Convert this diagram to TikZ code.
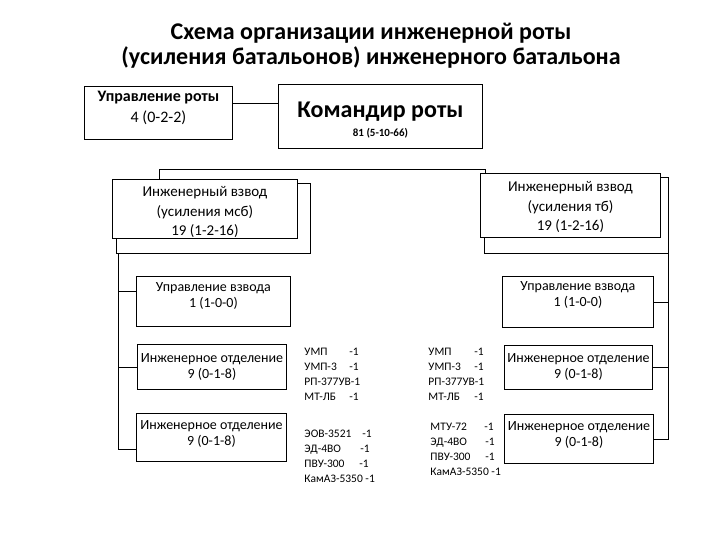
\documentclass[tikz,border=0pt]{standalone}
\usepackage{fontspec}
\setmainfont{Carlito}
\usetikzlibrary{positioning}
\newcommand{\toptext}[4][1pt]{\parbox[c][#2][t]{#3}{\centering\vspace*{#1}#4}}
\newcommand{\eqpart}[2]{\makebox[#1][l]{#2}}

\begin{document}
\begin{tikzpicture}[x=1pt,y=-1pt,line width=0.9pt,
  box/.style={draw,anchor=north west,inner sep=0pt,align=center,fill=white},
  bodytext/.style={font=\fontsize{14}{16.5}\selectfont},
  vzvtext/.style={font=\fontsize{15}{19.5}\selectfont},
  listtext/.style={anchor=west,align=left,inner sep=0pt,font=\fontsize{11.5}{15}\selectfont}]
\useasboundingbox (0,0) rectangle (720,540);
% ---- title ----
\node[align=center,font=\fontsize{24}{25.5}\selectfont\bfseries] (title) at (371,45.5)
  {Схема организации инженерной роты\\(усиления батальонов) инженерного батальона};
% ---- company level ----
\node[box,font=\fontsize{16}{21}\selectfont] (uprroty) at (84,86)
  {\toptext[5pt]{53pt}{148pt}{\textbf{Управление роты}\\4 (0-2-2)}};
\node[box] (komandir) at (278,84)
  {\toptext[17pt]{64pt}{204pt}{{\fontsize{24}{26}\selectfont\bfseries Командир роты}\\[6pt]
   {\fontsize{11}{13}\selectfont\bfseries 81 (5-10-66)}}};
\draw (uprroty.7) -- (uprroty.7 -| komandir.west);
% ---- platoons ----
\node[box,minimum width=194pt,minimum height=70pt] (vzvLb) at (116,183) {};
\node[box,vzvtext] (vzvL) at (112,179)
  {\toptext[7pt]{59pt}{185pt}{Инженерный взвод\\(усиления мсб)\\19 (1-2-16)}};
\node[box,minimum width=184pt,minimum height=76pt] (vzvRb) at (484,177) {};
\node[box,vzvtext] (vzvR) at (480,173)
  {\toptext[8pt]{64pt}{180pt}{Инженерный взвод\\(усиления тб)\\19 (1-2-16)}};
\coordinate (busL) at (159,169);
\coordinate (busR) at (485,169);
\draw (vzvL.north -| busL) -- (busL) -- (busR) -- (busR |- vzvR.north);
% ---- left platoon ----
\node[box,bodytext] (uprvzvL) at (136,276)
  {\toptext[6pt]{50pt}{154pt}{Управление взвода\\1 (1-0-0)}};
\node[box,bodytext] (otdL1) at (137,344)
  {\toptext[9pt]{45pt}{149pt}{Инженерное отделение\\9 (0-1-8)}};
\node[box,bodytext] (otdL2) at (136,413)
  {\toptext[7pt]{48pt}{150pt}{Инженерное отделение\\9 (0-1-8)}};
\draw (vzvLb.south west) ++(2,0) coordinate (spineL) |- (otdL2.189);
\draw (uprvzvL.173) -- (uprvzvL.173 -| spineL);
\draw (otdL1.west) -- (otdL1.west -| spineL);
\node[listtext] (techL1) at (304,374.5)
  {\eqpart{45pt}{УМП}-1\\\eqpart{45pt}{УМП-3}-1\\РП-377УВ-1\\\eqpart{45pt}{МТ-ЛБ}-1};
\node[listtext] (techL2) at (304,456.5)
  {\eqpart{58pt}{ЭОВ-3521}-1\\\eqpart{56pt}{ЭД-4ВО}-1\\\eqpart{55pt}{ПВУ-300}-1\\КамАЗ-5350 -1};
% ---- right platoon ----
\node[box,bodytext] (uprvzvR) at (502,276)
  {\toptext[5pt]{51pt}{151pt}{Управление взвода\\1 (1-0-0)}};
\node[box,bodytext] (otdR1) at (504,345)
  {\toptext[8pt]{44pt}{148pt}{Инженерное отделение\\9 (0-1-8)}};
\node[box,bodytext] (otdR2) at (504,414)
  {\toptext[7pt]{49pt}{149pt}{Инженерное отделение\\9 (0-1-8)}};
\draw (vzvRb.south east) |- (otdR2.east);
\draw (uprvzvR.east) -- (uprvzvR.east -| vzvRb.south east);
\draw (otdR1.east) -- (otdR1.east -| vzvRb.south east);
\node[listtext] (techR1) at (428,374.5)
  {\eqpart{46pt}{УМП}-1\\\eqpart{46pt}{УМП-3}-1\\РП-377УВ-1\\\eqpart{46pt}{МТ-ЛБ}-1};
\node[listtext] (techR2) at (430,449)
  {\eqpart{54pt}{МТУ-72}-1\\\eqpart{55pt}{ЭД-4ВО}-1\\\eqpart{55pt}{ПВУ-300}-1\\КамАЗ-5350 -1};
\end{tikzpicture}
\end{document}
